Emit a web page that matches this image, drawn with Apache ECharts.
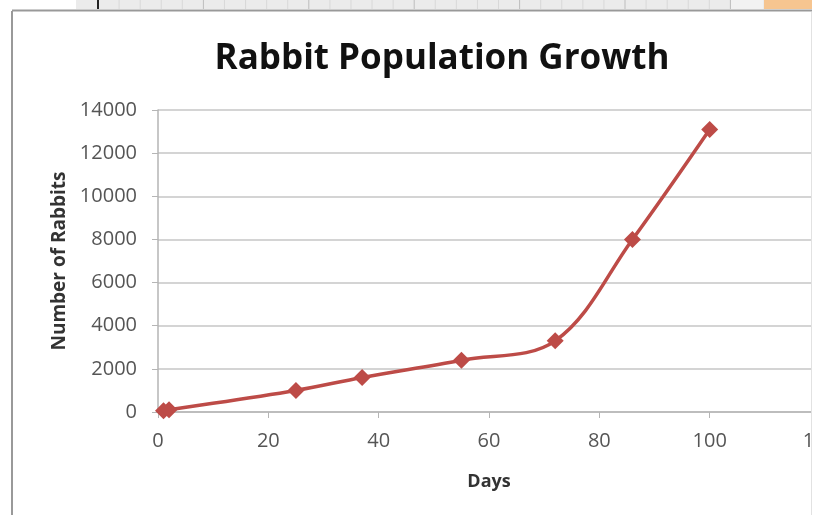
<!DOCTYPE html>
<html>
<head>
<meta charset="utf-8">
<script src="https://cdn.jsdelivr.net/npm/echarts@6/dist/echarts.min.js"></script>
<style>
  html, body { margin: 0; padding: 0; background: #ffffff; }
  #chart { width: 821px; height: 515px; }
</style>
</head>
<body>
<div id="chart"></div>
<script>
// data
const days = [1, 2, 25, 37, 55, 72, 86, 100];
const rabbits = [60, 100, 1000, 1600, 2400, 3300, 8000, 13100];
const yTicks = [0, 2000, 4000, 6000, 8000, 10000, 12000, 14000];
const xTicks = [0, 20, 40, 60, 80, 100, 120];

const font = '"Open Sans", "Noto Sans", sans-serif';

const chart = echarts.init(document.getElementById('chart'));

// spreadsheet strip above the chart (decoration only)
const strip = [];
strip.push({ type: 'rect', shape: { x: 76, y: 0, width: 688, height: 9 }, style: { fill: '#ebebeb' }, z: 10 });
strip.push({ type: 'rect', shape: { x: 731, y: 0, width: 32, height: 9 }, style: { fill: '#f2f2f2' }, z: 10 });
for (let i = 0; i <= 30; i++) {
  const x = 98 + i * 21.08;
  strip.push({
    type: 'line', shape: { x1: x, y1: 0, x2: x, y2: 9 },
    style: { stroke: i === 0 ? '#222' : (i % 5 === 0 ? '#bdbdbd' : '#d8d8d8'), lineWidth: i === 0 ? 2 : 1 }, z: 11
  });
}
strip.push({ type: 'rect', shape: { x: 764, y: 0, width: 48, height: 9 }, style: { fill: '#f6c590' }, z: 10 });

const option = {
  animation: false,
  backgroundColor: '#ffffff',
  title: {
    text: 'Rabbit Population Growth',
    left: 437,
    textAlign: 'center',
    top: 37,
    textStyle: { fontFamily: font, fontSize: 35, fontWeight: 'bold', color: '#111' }
  },
  grid: { left: 158, top: 110, width: 662, height: 302, outerBoundsMode: 'none' },
  xAxis: {
    type: 'value',
    min: 0, max: 120, interval: 20,
    name: 'Days',
    nameLocation: 'middle',
    nameGap: 61,
    nameTextStyle: { fontFamily: font, fontSize: 18, fontWeight: 'bold', color: '#333' },
    axisLine: { show: true, onZero: false, lineStyle: { color: '#b5b5b5', width: 1.5 } },
    axisTick: { show: true, length: 6, lineStyle: { color: '#b5b5b5' } },
    axisLabel: { margin: 19, fontFamily: font, fontSize: 20, color: '#555',
      formatter: v => xTicks.includes(v) ? String(v) : '' },
    splitLine: { show: false }
  },
  yAxis: {
    type: 'value',
    min: 0, max: 14000, interval: 2000,
    name: 'Number of Rabbits',
    nameLocation: 'middle',
    nameGap: 86,
    nameRotate: 90,
    nameTextStyle: { fontFamily: font, fontSize: 19, fontWeight: 'bold', color: '#333' },
    axisLine: { show: true, lineStyle: { color: '#b5b5b5', width: 1.5 } },
    axisTick: { show: true, length: 6, lineStyle: { color: '#b5b5b5' } },
    axisLabel: { margin: 21, fontFamily: font, fontSize: 20, color: '#555',
      formatter: v => yTicks.includes(v) ? String(v) : '' },
    splitLine: { show: true, lineStyle: { color: '#d4d4d4', width: 2 } }
  },
  series: [{
    type: 'line',
    data: days.map((d, i) => [d, rabbits[i]]),
    smooth: 0.35,
    symbol: 'diamond',
    symbolSize: 17,
    lineStyle: { color: '#bd4b47', width: 3.5 },
    itemStyle: { color: '#bd4b47' },
    z: 5
  }],
  graphic: strip.concat([
    // chart frame
    { type: 'line', shape: { x1: 12, y1: 10.5, x2: 812, y2: 10.5 }, style: { stroke: '#999', lineWidth: 2 }, z: 12 },
    { type: 'line', shape: { x1: 12, y1: 11, x2: 12, y2: 515 }, style: { stroke: '#999', lineWidth: 2 }, z: 12 },
    // right cut-off of the screenshot
    { type: 'rect', shape: { x: 812, y: 0, width: 9, height: 515 }, style: { fill: '#ffffff' }, z: 12 },
    { type: 'line', shape: { x1: 811.5, y1: 12, x2: 811.5, y2: 515 }, style: { stroke: '#e2e2e2', lineWidth: 1 }, z: 13 }
  ])
};

chart.setOption(option);
</script>
</body>
</html>
